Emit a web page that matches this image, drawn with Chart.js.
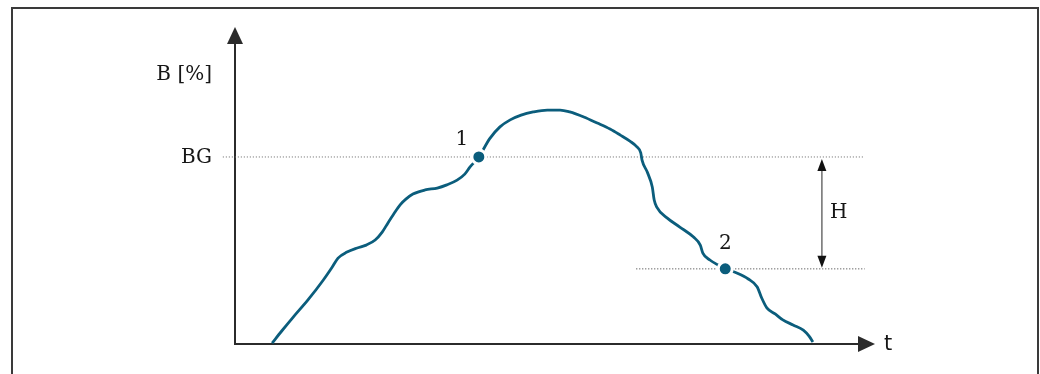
<!DOCTYPE html>
<html>
<head>
<meta charset="utf-8">
<script src="https://cdn.jsdelivr.net/npm/chart.js@4/dist/chart.umd.min.js"></script>
<style>
  html, body { margin: 0; padding: 0; background: #fff; }
  #chart { display: block; }
</style>
</head>
<body>
<canvas id="chart" width="1040" height="374"></canvas>
<script>
// curve: time (t) vs. level B [%]
const curveT = [5.8, 7.3, 9.1, 11.4, 13.8, 15.2, 16.1, 17.5, 19.1, 20.5, 21.9, 23.0, 23.9, 24.8, 25.8, 26.7, 27.8,
  29.7, 31.6, 33.1, 34.7, 35.9, 36.7, 38.1, 39.8, 41.4, 43.0, 44.7, 46.6, 48.8, 50.8, 52.3, 54.5, 56.6,
  58.6, 60.2, 61.7, 62.8, 63.4, 63.6, 64.4, 65.2, 65.5, 65.9, 67.5, 69.5, 71.6, 72.7, 73.1, 74.2, 75.5, 76.6,
  78.4, 80.2, 81.6, 82.3, 83.1, 84.4, 85.6, 87.2, 88.8, 89.7, 90.3];
const curveB = [0.3, 4.1, 8.5, 13.9, 20.2, 24.3, 27.1, 29.0, 30.3, 31.2, 32.8, 35.3, 38.2, 41.0, 43.9, 45.7, 47.3,
  48.6, 49.2, 50.2, 51.7, 53.6, 55.8, 59.0, 64.8, 68.5, 70.7, 72.2, 73.2, 73.8, 73.8, 73.2, 71.6, 69.7,
  67.8, 65.9, 64.0, 62.2, 60.3, 58.0, 54.3, 49.5, 45.4, 43.2, 39.8, 36.9, 33.8, 31.2, 28.7, 26.5, 24.9, 23.7,
  22.4, 20.5, 18.0, 14.5, 11.4, 9.5, 7.6, 6.0, 4.4, 2.5, 0.6];

// switch points
const switchT = [38.1, 76.6];
const switchB = [59.0, 23.7];
const switchLabels = ['1', '2'];

// levels and hysteresis
const bgLevel = 59.0;
const bgFrom = -1.9, bgTo = 98.4;
const lowLevel = 23.7;
const lowFrom = 62.7, lowTo = 98.4;
const hystT = 91.7;

const yTitle = 'B [%]';
const xTitle = 't';
const bgLabel = 'BG';
const hystLabel = 'H';

const curveColor = '#0b5d7c';
const serif = '"DejaVu Serif", serif';

function arrowHead(ctx, x, y, dir, len, half) {
  ctx.beginPath();
  if (dir === 'up') { ctx.moveTo(x, y); ctx.lineTo(x - half, y + len); ctx.lineTo(x + half, y + len); }
  if (dir === 'down') { ctx.moveTo(x, y); ctx.lineTo(x - half, y - len); ctx.lineTo(x + half, y - len); }
  if (dir === 'right') { ctx.moveTo(x, y); ctx.lineTo(x - len, y - half); ctx.lineTo(x - len, y + half); }
  ctx.closePath();
  ctx.fill();
}

const diagram = {
  id: 'diagram',
  beforeDatasetsDraw(chart) {
    const { ctx, chartArea } = chart;
    ctx.save();
    // frame
    ctx.strokeStyle = '#3a3a3a';
    ctx.lineWidth = 2;
    ctx.strokeRect(12, 8, 1026, 400);
    // axes
    ctx.strokeStyle = '#2b2b2b';
    ctx.fillStyle = '#2b2b2b';
    ctx.lineWidth = 2;
    ctx.beginPath();
    ctx.moveTo(chartArea.left, chartArea.top + 10);
    ctx.lineTo(chartArea.left, chartArea.bottom);
    ctx.lineTo(chartArea.right - 10, chartArea.bottom);
    ctx.stroke();
    arrowHead(ctx, chartArea.left, chartArea.top, 'up', 17, 8);
    arrowHead(ctx, chartArea.right, chartArea.bottom, 'right', 17, 8);
    ctx.restore();
  },
  afterDraw(chart) {
    const { ctx, chartArea, scales: { x, y } } = chart;
    ctx.save();
    ctx.fillStyle = '#161616';
    ctx.textBaseline = 'middle';
    ctx.font = '20px ' + serif;
    ctx.textAlign = 'right';
    ctx.fillText(yTitle, chartArea.left - 23, 75);
    ctx.fillText(bgLabel, chartArea.left - 23, y.getPixelForValue(bgLevel) + 1);
    ctx.textAlign = 'center';
    ctx.fillText(switchLabels[0], x.getPixelForValue(switchT[0]) - 17, y.getPixelForValue(switchB[0]) - 17);
    ctx.fillText(switchLabels[1], x.getPixelForValue(switchT[1]), y.getPixelForValue(switchB[1]) - 25);
    ctx.textAlign = 'left';
    ctx.fillText(hystLabel, x.getPixelForValue(hystT) + 8, (y.getPixelForValue(bgLevel) + y.getPixelForValue(lowLevel)) / 2);
    ctx.font = '21px "DejaVu Sans", sans-serif';
    ctx.fillText(xTitle, chartArea.right + 9, chartArea.bottom + 1);

    // hysteresis arrow
    const hx = x.getPixelForValue(hystT);
    const top = y.getPixelForValue(bgLevel) + 2;
    const bot = y.getPixelForValue(lowLevel) - 1;
    ctx.strokeStyle = '#777';
    ctx.lineWidth = 1.6;
    ctx.beginPath();
    ctx.moveTo(hx, top + 10);
    ctx.lineTo(hx, bot - 10);
    ctx.stroke();
    ctx.fillStyle = '#111';
    arrowHead(ctx, hx, top, 'up', 12, 4.5);
    arrowHead(ctx, hx, bot, 'down', 12, 4.5);
    ctx.restore();
  }
};

new Chart(document.getElementById('chart'), {
  type: 'line',
  data: {
    datasets: [
      {
        data: [{ x: bgFrom, y: bgLevel }, { x: bgTo, y: bgLevel }],
        borderColor: '#666', borderWidth: 1, borderDash: [1, 2], pointRadius: 0, clip: false, order: 3
      },
      {
        data: [{ x: lowFrom, y: lowLevel }, { x: lowTo, y: lowLevel }],
        borderColor: '#333', borderWidth: 1, borderDash: [1, 2], pointRadius: 0, clip: false, order: 3
      },
      {
        data: curveT.map((t, i) => ({ x: t, y: curveB[i] })),
        borderColor: curveColor, borderWidth: 2.8, pointRadius: 0,
        cubicInterpolationMode: 'monotone', clip: false, order: 2
      },
      {
        type: 'scatter',
        data: switchT.map((t, i) => ({ x: t, y: switchB[i] })),
        backgroundColor: curveColor, borderColor: '#fff', borderWidth: 3,
        pointRadius: 7, clip: false, order: 1
      }
    ]
  },
  options: {
    responsive: false,
    animation: false,
    layout: { padding: { left: 235, right: 165, top: 27, bottom: 30 } },
    plugins: { legend: { display: false }, tooltip: { enabled: false } },
    scales: {
      x: { type: 'linear', min: 0, max: 100, display: false },
      y: { min: 0, max: 100, display: false }
    }
  },
  plugins: [diagram]
});
</script>
</body>
</html>
